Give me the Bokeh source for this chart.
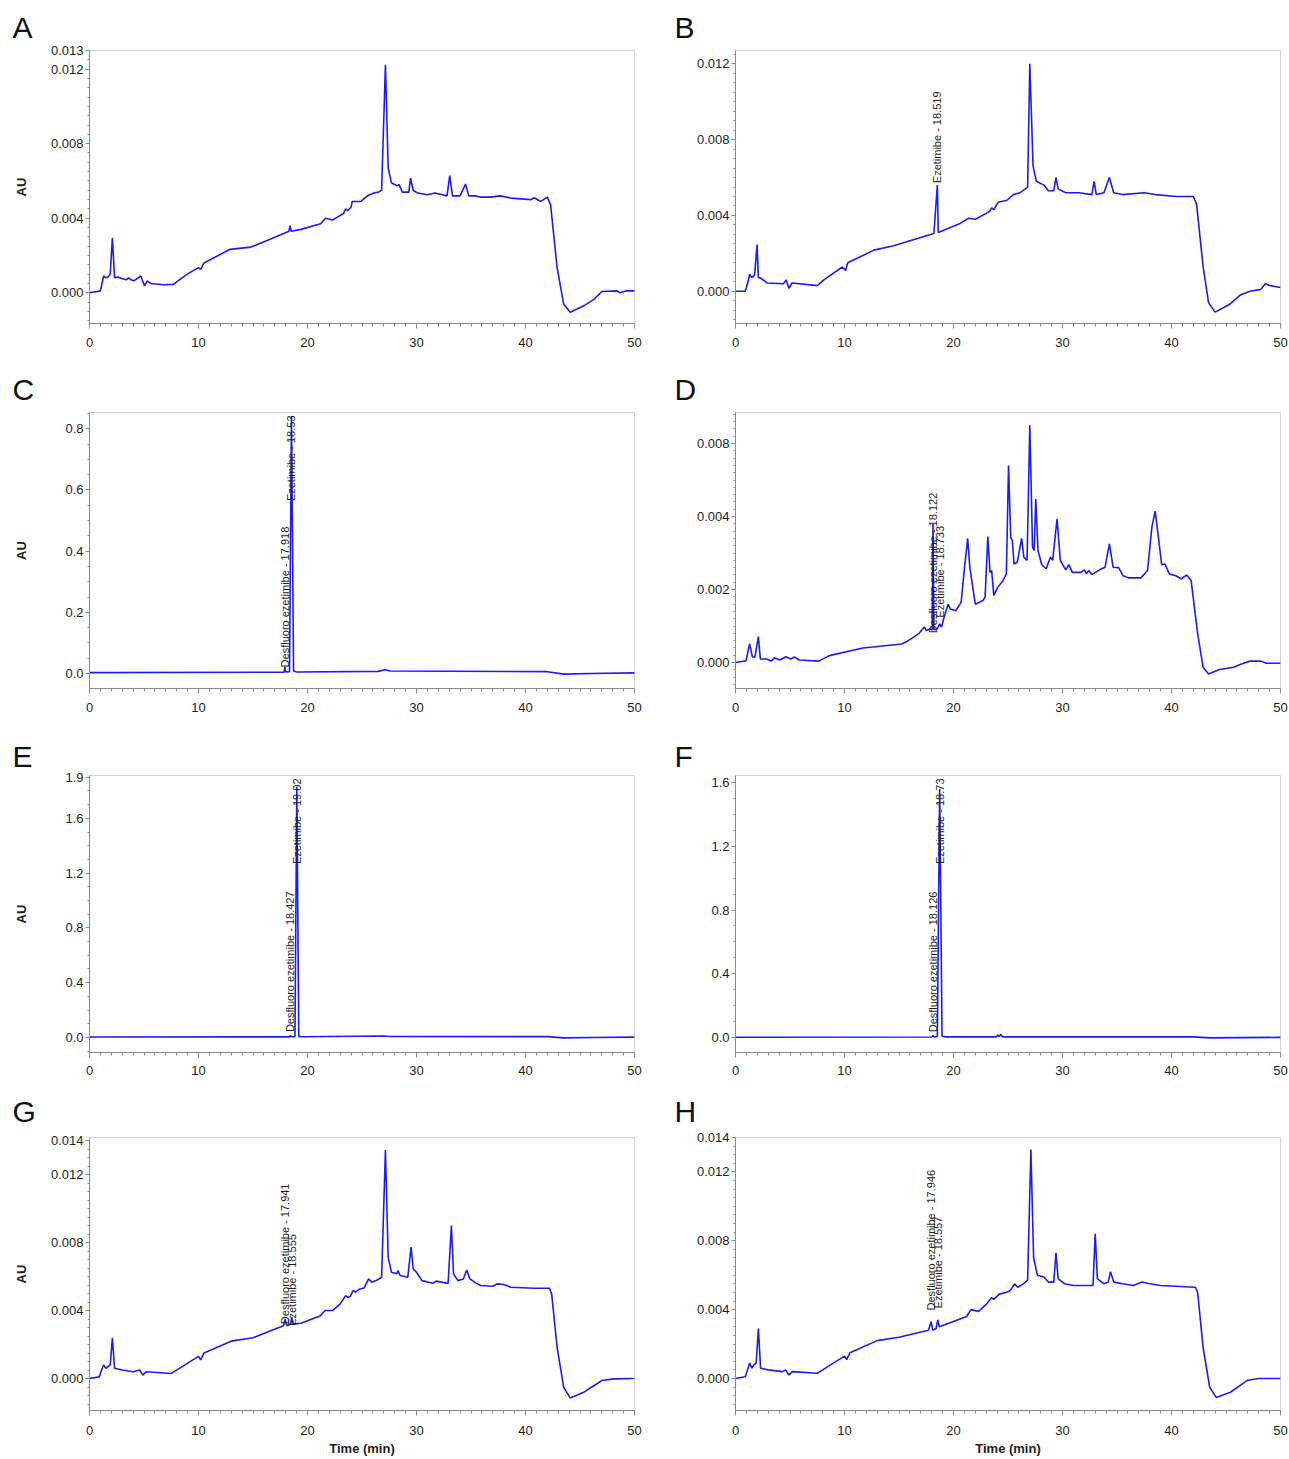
import math
from bokeh.plotting import figure
from bokeh.models import Range1d, FixedTicker
from bokeh.layouts import column, row
from bokeh.embed import file_html
from bokeh.resources import INLINE
from bokeh.core.properties import value

# ---------------- data (time in min, absorbance in AU) ----------------
A_time = [0.0, 1.0, 1.15, 1.3, 1.5, 1.7, 1.9, 2.1, 2.3, 2.6, 3.0, 3.4, 3.6, 3.8, 4.07, 4.7, 5.05, 5.3, 5.6, 6.8,
          7.7, 8.96, 10.0, 10.2, 10.5, 12.9, 14.8, 16.3, 18.3, 18.4, 18.5, 19.4, 21.2, 21.65, 22.3, 23.3, 23.5, 23.7,
          24.0, 24.1, 24.9, 25.3, 25.5, 26.1, 26.5, 26.8, 27.15, 27.4, 27.7, 28.2, 28.4, 28.7, 29.3, 29.45, 29.7,
          30.1, 31.0, 31.7, 32.8, 33.05, 33.3, 34.0, 34.5, 34.8, 35.4, 35.9, 36.8, 37.7, 38.65, 40.5, 40.8, 41.4,
          42.0, 42.3, 42.9, 43.5, 44.1, 45.35, 46.3, 47.0, 48.4, 48.65, 49.2, 50.0]
A_au = [0.0, 0.0001, 0.0005, 0.0009, 0.0008, 0.00085, 0.001, 0.00295, 0.0008, 0.00085, 0.00075, 0.0007, 0.0008,
        0.0007, 0.00064, 0.0009, 0.00037, 0.00064, 0.0005, 0.00043, 0.00045, 0.001, 0.00135, 0.00126, 0.0016,
        0.00233, 0.00245, 0.0028, 0.0033, 0.0036, 0.0033, 0.0034, 0.0037, 0.004, 0.0039, 0.00425, 0.0045, 0.0044,
        0.0046, 0.0049, 0.0049, 0.0051, 0.0052, 0.00535, 0.0054, 0.0055, 0.01223, 0.0067, 0.0059, 0.00574, 0.0058,
        0.0054, 0.0054, 0.00615, 0.0055, 0.00535, 0.00526, 0.00535, 0.0052, 0.00628, 0.0052, 0.0052, 0.00583,
        0.0052, 0.0052, 0.00513, 0.00513, 0.0052, 0.00508, 0.005, 0.0051, 0.0049, 0.00513, 0.00473, 0.00135,
        -0.0006, -0.00105, -0.0007, -0.00034, 0.00007, 0.0001, 0.0, 0.0001, 0.0001]

B_time = [0.0, 0.9, 1.15, 1.3, 1.5, 1.75, 1.98, 2.1, 2.3, 2.9, 4.4, 4.65, 4.9, 5.2, 7.5, 8.1, 9.8, 10.1, 10.3, 12.7,
          14.5, 18.2, 18.52, 18.6, 20.6, 21.4, 22.0, 23.3, 23.5, 23.7, 24.1, 24.9, 25.5, 26.1, 26.6, 26.8, 27.0,
          27.3, 27.6, 28.3, 28.7, 29.2, 29.4, 29.6, 30.3, 31.5, 32.7, 32.9, 33.1, 33.8, 34.3, 34.7, 35.5, 37.5,
          38.5, 40.5, 42.0, 42.3, 42.9, 43.4, 44.0, 45.3, 46.3, 47.2, 48.2, 48.6, 49.0, 50.0]
B_au = [0.0, 0.0, 0.0005, 0.0009, 0.00072, 0.00085, 0.00247, 0.00072, 0.0007, 0.00044, 0.0004, 0.0006, 0.00016,
        0.00044, 0.0003, 0.0006, 0.00128, 0.0011, 0.0015, 0.00217, 0.0024, 0.00305, 0.0056, 0.0031, 0.00358,
        0.00385, 0.0038, 0.0042, 0.0044, 0.0043, 0.0047, 0.0048, 0.0051, 0.0052, 0.0054, 0.0055, 0.012, 0.0066,
        0.0058, 0.0056, 0.0053, 0.0053, 0.006, 0.0054, 0.0052, 0.0052, 0.0051, 0.0058, 0.0051, 0.0052, 0.006,
        0.0052, 0.0051, 0.0052, 0.0051, 0.005, 0.005, 0.0046, 0.0013, -0.0006, -0.0011, -0.0007, -0.0002, 0.0,
        0.0001, 0.0004, 0.0003, 0.0002]

C_time = [0.0, 17.5, 17.85, 17.92, 18.0, 18.35, 18.53, 18.72, 19.0, 26.5, 27.1, 27.6, 42.0, 43.5, 46.0, 50.0]
C_au = [0.003, 0.004, 0.004, 0.022, 0.005, 0.006, 0.84, 0.008, 0.005, 0.007, 0.012, 0.008, 0.006, -0.002, 0.0, 0.002]

D_time = [0.0, 0.97, 1.29, 1.55, 1.78, 2.1, 2.28, 2.87, 3.27, 3.57, 4.06, 4.65, 5.05, 5.45, 5.84, 7.63, 8.6, 11.7,
          15.25, 15.85, 16.85, 17.1, 17.35, 17.5, 17.85, 18.05, 18.12, 18.2, 18.5, 18.73, 18.9, 19.1, 19.5, 19.7,
          20.2, 20.7, 21.0, 21.3, 21.5, 22.0, 22.7, 22.9, 23.15, 23.35, 23.5, 23.7, 24.05, 24.55, 24.85, 25.05,
          25.25, 25.4, 25.55, 25.85, 26.25, 26.45, 26.75, 27.0, 27.25, 27.4, 27.55, 27.75, 28.1, 28.5, 28.9, 29.1,
          29.5, 29.8, 30.3, 30.6, 30.9, 31.7, 32.0, 32.2, 32.4, 32.7, 33.4, 33.9, 34.3, 34.65, 35.15, 35.55, 36.05,
          37.2, 37.8, 38.2, 38.5, 38.8, 39.1, 39.4, 39.8, 40.4, 40.9, 41.4, 41.8, 42.4, 42.9, 43.4, 44.4, 45.7,
          46.3, 47.2, 48.2, 48.7, 50.0]
D_au = [0.0, 0.00005, 0.00051, 0.00016, 0.00015, 0.00071, 0.0001, 0.0001, 0.00004, 0.00013, 0.00007, 0.00016,
        0.0001, 0.00015, 0.00007, 0.00004, 0.00019, 0.0004, 0.00051, 0.0006, 0.0008, 0.0009, 0.00097, 0.00088,
        0.00092, 0.0009, 0.0038, 0.0009, 0.00092, 0.00106, 0.00097, 0.0012, 0.0016, 0.00147, 0.00142, 0.00165,
        0.00257, 0.0034, 0.0026, 0.0016, 0.0017, 0.0018, 0.00345, 0.00247, 0.00252, 0.00184, 0.00206, 0.00225,
        0.00243, 0.0054, 0.00343, 0.00334, 0.0027, 0.00275, 0.0034, 0.00289, 0.0028, 0.0065, 0.00316, 0.00307,
        0.00448, 0.00307, 0.00268, 0.00257, 0.00289, 0.0028, 0.00394, 0.0028, 0.00254, 0.00268, 0.00247, 0.00247,
        0.00254, 0.00243, 0.00252, 0.00241, 0.00254, 0.00261, 0.00325, 0.00261, 0.0026, 0.00238, 0.00232, 0.00232,
        0.00252, 0.00371, 0.00415, 0.00343, 0.00268, 0.0027, 0.00243, 0.00238, 0.00229, 0.0024, 0.00225, 0.00079,
        -0.00013, -0.00031, -0.00019, -0.00013, -0.00005, 0.00004, 0.00004, -0.00002, -0.00002]

E_time = [0.0, 18.0, 18.35, 18.43, 18.5, 18.85, 19.02, 19.2, 19.5, 27.0, 27.5, 42.0, 43.5, 46.0, 50.0]
E_au = [0.003, 0.004, 0.004, 0.015, 0.005, 0.006, 1.83, 0.008, 0.005, 0.01, 0.007, 0.006, -0.003, 0.0, 0.002]

F_time = [0.0, 18.0, 18.13, 18.22, 18.52, 18.73, 18.95, 19.3, 23.9, 24.05, 24.2, 24.35, 24.5, 42.0, 43.5, 50.0]
F_au = [0.002, 0.003, 0.012, 0.004, 0.006, 1.56, 0.008, 0.004, 0.004, 0.015, 0.006, 0.02, 0.004, 0.004, -0.002, 0.001]

G_time = [0.0, 0.9, 1.1, 1.3, 1.5, 1.7, 1.9, 2.1, 2.3, 3.0, 4.0, 4.6, 4.9, 5.2, 7.5, 8.5, 10.0, 10.2, 10.5, 13.0,
          15.0, 17.8, 17.94, 18.1, 18.45, 18.56, 18.7, 19.4, 21.2, 21.6, 22.3, 23.0, 23.5, 23.7, 23.9, 24.2, 24.4,
          24.8, 25.2, 25.6, 25.9, 26.4, 26.8, 27.15, 27.4, 27.7, 28.2, 28.3, 28.5, 29.2, 29.5, 29.7, 30.0, 30.5,
          30.9, 31.5, 31.8, 32.3, 32.9, 33.2, 33.4, 33.8, 34.3, 34.6, 34.9, 35.5, 35.9, 37.0, 37.4, 38.0, 38.65,
          40.8, 42.2, 42.4, 42.9, 43.5, 44.1, 45.35, 46.3, 47.0, 48.1, 50.0]
G_au = [0.0, 0.0001, 0.0005, 0.0008, 0.0006, 0.0007, 0.0008, 0.0024, 0.0006, 0.0005, 0.0004, 0.0005, 0.0002,
        0.0004, 0.0003, 0.0007, 0.0013, 0.0011, 0.0015, 0.0022, 0.0024, 0.0031, 0.0035, 0.0031, 0.0032, 0.0036,
        0.0032, 0.00325, 0.0037, 0.004, 0.004, 0.00439, 0.00488, 0.00478, 0.00482, 0.00518, 0.00508, 0.00527,
        0.00533, 0.00586, 0.00567, 0.0058, 0.00596, 0.01345, 0.00714, 0.00625, 0.00616, 0.00635, 0.00606, 0.00596,
        0.00773, 0.00645, 0.00625, 0.00576, 0.0057, 0.0056, 0.00573, 0.00567, 0.0056, 0.009, 0.00616, 0.00576,
        0.00586, 0.00639, 0.00586, 0.0056, 0.00547, 0.00543, 0.00557, 0.00553, 0.00537, 0.00531, 0.00531, 0.00498,
        0.00184, -0.00051, -0.00114, -0.0008, -0.00041, -0.00012, -0.00002, 0.0]

H_time = [0.0, 0.9, 1.1, 1.3, 1.5, 1.7, 1.9, 2.1, 2.3, 3.0, 4.3, 4.6, 4.9, 5.2, 7.5, 8.5, 10.0, 10.2, 10.5, 13.0,
          15.0, 17.7, 17.95, 18.1, 18.4, 18.56, 18.7, 19.5, 21.2, 21.6, 22.3, 23.0, 23.5, 23.7, 24.2, 24.8, 25.2,
          25.6, 25.9, 26.4, 26.8, 27.1, 27.35, 27.7, 28.3, 28.7, 29.2, 29.4, 29.6, 30.2, 31.0, 32.0, 32.8, 33.0,
          33.2, 33.8, 34.2, 34.4, 34.7, 35.5, 36.5, 37.3, 38.0, 39.0, 42.2, 42.4, 42.9, 43.5, 44.1, 45.4, 46.3,
          47.0, 48.0, 50.0]
H_au = [0.0, 0.0001, 0.0005, 0.0009, 0.0006, 0.0008, 0.0009, 0.0029, 0.0006, 0.0005, 0.0004, 0.0005, 0.0002,
        0.0004, 0.0003, 0.0007, 0.0013, 0.0011, 0.0015, 0.0022, 0.0024, 0.0028, 0.0033, 0.0028, 0.0029, 0.0034,
        0.003, 0.0032, 0.0036, 0.004, 0.0039, 0.0043, 0.0047, 0.0046, 0.0049, 0.005, 0.0051, 0.0055, 0.0053,
        0.0055, 0.0057, 0.0133, 0.007, 0.006, 0.0059, 0.0056, 0.0056, 0.0073, 0.0058, 0.0055, 0.0054, 0.0054,
        0.0054, 0.0084, 0.0058, 0.0055, 0.0056, 0.0062, 0.0056, 0.0055, 0.0054, 0.0056, 0.0055, 0.0054, 0.0053,
        0.005, 0.0018, -0.0005, -0.0011, -0.0008, -0.0004, -0.0001, 0.0, 0.0]

# tick values and their printed labels
X_TICKS = [0, 10, 20, 30, 40, 50]
X_TICK_LABELS = ["0", "10", "20", "30", "40", "50"]
A_YTICKS = [0.0, 0.004, 0.008, 0.012, 0.013]
A_YLABELS = ["0.000", "0.004", "0.008", "0.012", "0.013"]
B_YTICKS = [0.0, 0.004, 0.008, 0.012]
B_YLABELS = ["0.000", "0.004", "0.008", "0.012"]
C_YTICKS = [0.0, 0.2, 0.4, 0.6, 0.8]
C_YLABELS = ["0.0", "0.2", "0.4", "0.6", "0.8"]
D_YTICKS = [0.0, 0.002, 0.004, 0.006]
D_YLABELS = ["0.000", "0.002", "0.004", "0.008"]
E_YTICKS = [0.0, 0.4, 0.8, 1.2, 1.6, 1.9]
E_YLABELS = ["0.0", "0.4", "0.8", "1.2", "1.6", "1.9"]
F_YTICKS = [0.0, 0.4, 0.8, 1.2, 1.6]
F_YLABELS = ["0.0", "0.4", "0.8", "1.2", "1.6"]
G_YTICKS = [0.0, 0.004, 0.008, 0.012, 0.014]
G_YLABELS = ["0.000", "0.004", "0.008", "0.012", "0.014"]
H_YTICKS = [0.0, 0.004, 0.008, 0.012, 0.014]
H_YLABELS = ["0.000", "0.004", "0.008", "0.012", "0.014"]

# peak annotations: retention time, label text
B_PEAK_RT = [18.519]
B_PEAK_TXT = ["Ezetimibe - 18.519"]
C_PEAK_RT = [17.918, 18.53]
C_PEAK_TXT = ["Desfluoro ezetimibe - 17.918", "Ezetimibe - 18.53"]
D_PEAK_RT = [18.122, 18.733]
D_PEAK_TXT = ["Desfluoro ezetimibe - 18.122", "Ezetimibe - 18.733"]
E_PEAK_RT = [18.427, 19.02]
E_PEAK_TXT = ["Desfluoro ezetimibe - 18.427", "Ezetimibe - 19.02"]
F_PEAK_RT = [18.126, 18.73]
F_PEAK_TXT = ["Desfluoro ezetimibe - 18.126", "Ezetimibe - 18.73"]
G_PEAK_RT = [17.941, 18.555]
G_PEAK_TXT = ["Desfluoro ezetimibe - 17.941", "Ezetimibe - 18.555"]
H_PEAK_RT = [17.946, 18.557]
H_PEAK_TXT = ["Desfluoro ezetimibe - 17.946", "Ezetimibe - 18.557"]

# ---------------- styling / layout ----------------
FONT = "Liberation Sans"
LINE_COLOR = "#1c1cf2"
AXIS_COLOR = "#8a8a8a"
TEXT_COLOR = "#1e1e1e"
FRAME_W = 545


def minor_list(lo, hi, step):
    k0 = math.ceil(lo / step - 1e-9)
    k1 = math.floor(hi / step + 1e-9)
    return [round(k * step, 7) for k in range(k0, k1 + 1)]


def panel(letter, t, au, ylo, yhi, yticks, ylabels, ystep, peak_rt, peak_txt, label_base, label_top,
          left_col, top, frame_h, bottom, last_row, au_standoff, letter_standoff, xlab_standoff):
    left_b = 89 if left_col else 81
    right_b = 20 if left_col else 8
    p = figure(width=left_b + FRAME_W + right_b, height=top + frame_h + bottom,
               min_border_left=left_b, min_border_right=right_b,
               min_border_top=top, min_border_bottom=bottom,
               x_range=Range1d(0, 50), y_range=Range1d(ylo, yhi),
               output_backend="svg", toolbar_location=None)
    p.grid.visible = False
    p.outline_line_color = "#d2d2d2"
    p.outline_line_width = 1
    p.background_fill_color = "white"
    p.border_fill_color = "white"

    # panel letter as the plot title
    p.title.text = letter
    p.title.align = "left"
    p.title.offset = -77 if left_col else -61
    p.title.standoff = letter_standoff
    p.title.text_font = FONT
    p.title.text_font_size = "30px"
    p.title.text_font_style = "normal"
    p.title.text_color = "#111111"

    p.line(t, au, line_color=LINE_COLOR, line_width=1.6)

    for i, (rt, txt) in enumerate(zip(peak_rt, peak_txt)):
        if label_top[i]:
            p.text(x=[rt], y=[yhi], text=[txt], angle=math.pi / 2, text_align="right",
                   text_baseline="middle", y_offset=3, text_font=value(FONT),
                   text_font_size="11px", text_color=TEXT_COLOR)
        else:
            p.text(x=[rt], y=[label_base[i]], text=[txt], angle=math.pi / 2, text_align="left",
                   text_baseline="middle", text_font=value(FONT),
                   text_font_size="11px", text_color=TEXT_COLOR)

    xa = p.xaxis[0]
    ya = p.yaxis[0]
    xa.ticker = FixedTicker(ticks=X_TICKS, minor_ticks=list(range(0, 51)))
    xa.major_label_overrides = dict(zip(X_TICKS, X_TICK_LABELS))
    ya.ticker = FixedTicker(ticks=yticks, minor_ticks=minor_list(ylo, yhi, ystep))
    ya.major_label_overrides = dict(zip(yticks, ylabels))
    for ax in (xa, ya):
        ax.axis_line_color = AXIS_COLOR
        ax.major_tick_line_color = AXIS_COLOR
        ax.minor_tick_line_color = AXIS_COLOR
        ax.major_tick_in = 0
        ax.minor_tick_in = 0
        ax.major_label_text_font = FONT
        ax.major_label_text_font_size = "13px"
        ax.major_label_text_color = TEXT_COLOR
        ax.axis_label_text_font = FONT
        ax.axis_label_text_font_size = "13px"
        ax.axis_label_text_font_style = "bold"
        ax.axis_label_text_color = TEXT_COLOR
    xa.major_tick_out = 5
    xa.minor_tick_out = 3
    xa.major_label_standoff = xlab_standoff
    ya.major_tick_out = 4
    ya.minor_tick_out = 2
    ya.major_label_standoff = 2

    if last_row:
        xa.axis_label = "Time (min)"
        xa.axis_label_standoff = 3
    if left_col:
        ya.axis_label = "AU"
        ya.axis_label_standoff = au_standoff
    return p


# row geometry: (top border, frame height, bottom border)
pA = panel("A", A_time, A_au, -0.00165, 0.0130, A_YTICKS, A_YLABELS, 0.0005, [], [], [], [],
           True, 50, 273, 38, False, 19, 13, 9)
pB = panel("B", B_time, B_au, -0.0017, 0.0127, B_YTICKS, B_YLABELS, 0.0005, B_PEAK_RT, B_PEAK_TXT,
           [0.0057], [False], False, 50, 273, 38, False, 0, 13, 9)
pC = panel("C", C_time, C_au, -0.049, 0.853, C_YTICKS, C_YLABELS, 0.05, C_PEAK_RT, C_PEAK_TXT,
           [0.02, 0.0], [False, True], True, 51, 276, 38, False, 33, 14, 9)
pD = panel("D", D_time, D_au, -0.00071, 0.00685, D_YTICKS, D_YLABELS, 0.0002, D_PEAK_RT, D_PEAK_TXT,
           [0.0008, 0.00123], [False, False], False, 51, 276, 38, False, 0, 14, 9)
pE = panel("E", E_time, E_au, -0.11, 1.913, E_YTICKS, E_YLABELS, 0.1, E_PEAK_RT, E_PEAK_TXT,
           [0.039, 0.0], [False, True], True, 49, 277, 29, False, 33, 6, 8)
pF = panel("F", F_time, F_au, -0.094, 1.644, F_YTICKS, F_YLABELS, 0.1, F_PEAK_RT, F_PEAK_TXT,
           [0.033, 0.0], [False, True], False, 49, 277, 29, False, 0, 6, 8)
pG = panel("G", G_time, G_au, -0.00188, 0.01418, G_YTICKS, G_YLABELS, 0.0005, G_PEAK_RT, G_PEAK_TXT,
           [0.0032, 0.0031], [False, False], True, 56, 273, 48, True, 19, 19, 10)
pH = panel("H", H_time, H_au, -0.00186, 0.0140, H_YTICKS, H_YLABELS, 0.0005, H_PEAK_RT, H_PEAK_TXT,
           [0.00395, 0.00407], [False, False], False, 56, 273, 48, True, 0, 19, 10)

layout = column(row(pA, pB), row(pC, pD), row(pE, pF), row(pG, pH))

open("out.html", "w").write(file_html(layout, INLINE))
